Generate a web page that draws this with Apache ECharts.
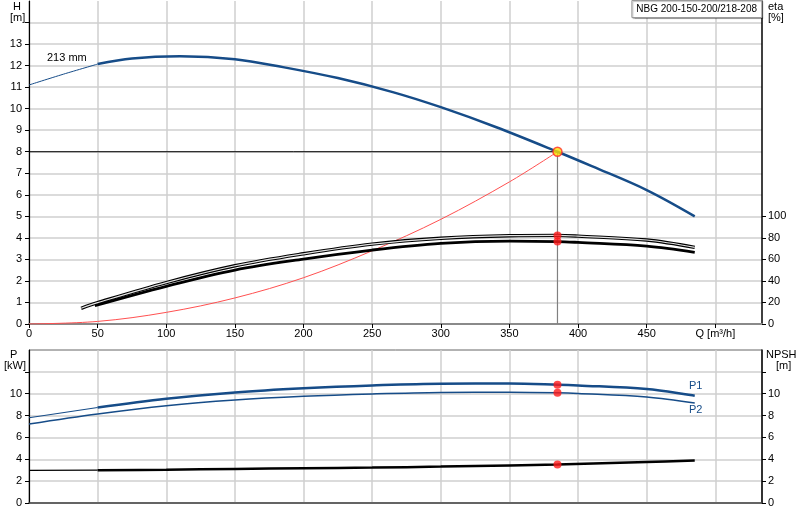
<!DOCTYPE html>
<html><head><meta charset="utf-8">
<script src="https://cdn.jsdelivr.net/npm/echarts@6/dist/echarts.min.js"></script>
<style>html,body{margin:0;padding:0;background:#fff}#c{width:800px;height:520px}</style>
</head><body><div id="c"></div>
<script>
// ---- data ----
const title = 'NBG 200-150-200/218-208';
const impellerLabel = '213 mm';
const qTicks = [0, 50, 100, 150, 200, 250, 300, 350, 400, 450, 500];
const hTickLabels = [0,1,2,3,4,5,6,7,8,9,10,11,12,13];
const etaTickLabels = [0,20,40,60,80,100];
const pTickLabels = [0,2,4,6,8,10];
// H curve (Q m3/h, H m)
const hCurveThin = [[0,11.1],[25,11.6],[50,12.07]];
const hCurve = [[50,12.07],[75,12.33],[110,12.43],[150,12.3],[185,11.93],[225,11.42],[265,10.77],[300,10.07],[340,9.15],[385,8.0],[410,7.33],[450,6.22],[485,5.0]];
// system curve
const sysCurve = [[0,0],[50,0.12],[100,0.54],[150,1.21],[200,2.15],[250,3.4],[300,4.86],[350,6.6],[385,8.0]];
// efficiency curves (%)
const etaUpper = [[38,14.6],[50,19.8],[100,38.5],[150,54.1],[200,65.2],[250,74.2],[300,79.6],[350,82.0],[385,82.3],[400,81.6],[450,78.0],[485,71.2]];
const etaLower = [[48,17.0],[100,35.0],[150,50.1],[200,60.3],[250,68.7],[300,74.9],[350,77.0],[385,76.6],[400,75.8],[450,72.4],[485,66.6]];
// power curves (kW)
const p1Thin = [[0,7.8],[50,8.74]];
const p1Curve = [[50,8.74],[100,9.54],[150,10.12],[200,10.5],[250,10.76],[300,10.92],[350,10.93],[385,10.83],[400,10.76],[450,10.43],[485,9.82]];
const p2Curve = [[0,7.22],[50,8.14],[100,8.9],[150,9.42],[200,9.76],[250,9.98],[300,10.12],[350,10.14],[385,10.09],[400,10.03],[450,9.7],[485,9.15]];
// NPSH (m)
const npshThin = [[0,2.98],[50,3.0]];
const npshCurve = [[50,3.0],[100,3.05],[150,3.12],[200,3.18],[250,3.24],[300,3.33],[350,3.44],[385,3.53],[450,3.75],[485,3.88]];
// duty point
const dutyQ = 385, dutyH = 8.0;
const dutyEta = [82.3, 76.6];
const dutyP = [10.83, 10.09];
const dutyNpsh = 3.53;

// ---- chart ----
const FONT = '"Liberation Sans", Arial, sans-serif';
const BLUE = '#164c88';
const chart = echarts.init(document.getElementById('c'), null, {renderer: 'canvas'});
const grid = '#cfcfcf';
const lbl = {color: '#000', fontSize: 11, fontFamily: FONT};

function line(data, opts) {
  return Object.assign({type: 'line', data: data, symbol: 'none', smooth: 0.35, silent: true, z: 3}, opts);
}
function dots(data, x, y, opts) {
  return Object.assign({type: 'scatter', data: data, xAxisIndex: x, yAxisIndex: y, symbolSize: 8,
    itemStyle: {color: '#ff1a1a'}, z: 10, silent: true}, opts);
}

const option = {
  animation: false,
  textStyle: {fontFamily: FONT},
  title: {
    text: title, right: 38, top: 0,
    padding: [4, 5, 4, 5],
    borderColor: '#9a9a9a', borderWidth: 1, backgroundColor: '#fff',
    shadowColor: 'rgba(0,0,0,0.25)', shadowOffsetX: 1, shadowOffsetY: 1, shadowBlur: 1,
    textStyle: {fontSize: 10, fontWeight: 'normal', color: '#000', fontFamily: FONT}
  },
  grid: [
    {left: 29, right: 38, top: 1, bottom: 196},
    {left: 29, right: 38, top: 350, bottom: 17, show: true, borderColor: '#666', borderWidth: 1}
  ],
  xAxis: [
    {type: 'value', gridIndex: 0, min: 0, max: 534, interval: 50,
      axisLine: {lineStyle: {color: '#8a8a8a', width: 2}},
      axisTick: {show: true, length: 4, lineStyle: {color: '#000'}, customValues: qTicks},
      axisLabel: Object.assign({margin: 4, customValues: qTicks,
        formatter: v => v === 500 ? 'Q [m\u00b3/h]' : String(v)}, lbl),
      splitLine: {show: true, lineStyle: {color: grid, width: 1.5}}},
    {type: 'value', gridIndex: 1, min: 0, max: 534, interval: 50,
      axisLine: {lineStyle: {color: '#444', width: 1.5}},
      axisTick: {show: false}, axisLabel: {show: false},
      splitLine: {show: true, lineStyle: {color: grid, width: 1.5}}}
  ],
  yAxis: [
    {type: 'value', gridIndex: 0, min: 0, max: 15, interval: 1, position: 'left',
      axisLine: {show: true, lineStyle: {color: '#000', width: 1.2}},
      axisTick: {show: true, length: 4, lineStyle: {color: '#000'}, customValues: hTickLabels.concat([14])},
      axisLabel: Object.assign({margin: 7, customValues: hTickLabels}, lbl),
      splitLine: {show: true, lineStyle: {color: grid, width: 1.5}}},
    {type: 'value', gridIndex: 0, min: 0, max: 300, interval: 20, position: 'right',
      axisLine: {show: true, lineStyle: {color: '#000', width: 1.5}},
      axisTick: {show: true, length: 4, lineStyle: {color: '#000'}, customValues: etaTickLabels},
      axisLabel: Object.assign({margin: 6, customValues: etaTickLabels}, lbl),
      splitLine: {show: false}},
    {type: 'value', gridIndex: 1, min: 0, max: 14, interval: 2, position: 'left',
      axisLine: {show: true, lineStyle: {color: '#000', width: 1.2}},
      axisTick: {show: true, length: 4, lineStyle: {color: '#000'}, customValues: pTickLabels.concat([12])},
      axisLabel: Object.assign({margin: 7, customValues: pTickLabels}, lbl),
      splitLine: {show: true, lineStyle: {color: grid, width: 1.5}}},
    {type: 'value', gridIndex: 1, min: 0, max: 14, interval: 2, position: 'right',
      axisLine: {show: true, lineStyle: {color: '#000', width: 1.5}},
      axisTick: {show: true, length: 4, lineStyle: {color: '#000'}, customValues: pTickLabels.concat([12])},
      axisLabel: Object.assign({margin: 6, customValues: pTickLabels}, lbl),
      splitLine: {show: false}}
  ],
  graphic: [
    {type: 'text', left: 13, top: 1, style: {text: 'H', fill: '#000', font: '11px ' + FONT}},
    {type: 'text', left: 10, top: 12, style: {text: '[m]', fill: '#000', font: '11px ' + FONT}},
    {type: 'text', left: 768, top: 1, style: {text: 'eta', fill: '#000', font: '11px ' + FONT}},
    {type: 'text', left: 768, top: 12, style: {text: '[%]', fill: '#000', font: '11px ' + FONT}},
    {type: 'text', left: 10, top: 349, style: {text: 'P', fill: '#000', font: '11px ' + FONT}},
    {type: 'text', left: 4, top: 360, style: {text: '[kW]', fill: '#000', font: '11px ' + FONT}},
    {type: 'text', left: 766, top: 349, style: {text: 'NPSH', fill: '#000', font: '11px ' + FONT}},
    {type: 'text', left: 776, top: 360, style: {text: '[m]', fill: '#000', font: '11px ' + FONT}},
    {type: 'text', left: 47, top: 52, style: {text: impellerLabel, fill: '#000', font: '11px ' + FONT}},
    {type: 'text', left: 689, top: 380, style: {text: 'P1', fill: BLUE, font: '11px ' + FONT}},
    {type: 'text', left: 689, top: 404, style: {text: 'P2', fill: BLUE, font: '11px ' + FONT}}
  ],
  series: [
    // duty lines
    line([[0, dutyH], [dutyQ, dutyH]], {smooth: false, xAxisIndex: 0, yAxisIndex: 0, lineStyle: {color: '#000', width: 1}, z: 2}),
    line([[dutyQ, 0], [dutyQ, dutyH]], {smooth: false, xAxisIndex: 0, yAxisIndex: 0, lineStyle: {color: '#808080', width: 1.2}, z: 2}),
    // system curve
    line(sysCurve, {xAxisIndex: 0, yAxisIndex: 0, lineStyle: {color: '#ff5050', width: 1}}),
    // H curve
    line(hCurveThin, {xAxisIndex: 0, yAxisIndex: 0, lineStyle: {color: BLUE, width: 1}}),
    line(hCurve, {xAxisIndex: 0, yAxisIndex: 0, lineStyle: {color: BLUE, width: 2.5}}),
    // efficiency
    line(etaUpper, {xAxisIndex: 0, yAxisIndex: 1, lineStyle: {color: '#000', width: 3.4}}),
    line(etaUpper, {xAxisIndex: 0, yAxisIndex: 1, lineStyle: {color: '#e2e2e2', width: 1.2}, z: 4}),
    line(etaLower, {xAxisIndex: 0, yAxisIndex: 1, lineStyle: {color: '#000', width: 2.8}}),
    dots(dutyEta.map(v => [dutyQ, v]), 0, 1),
    dots([[dutyQ, dutyH]], 0, 0, {symbolSize: 9, itemStyle: {color: '#ffe000', borderColor: '#ff2a2a', borderWidth: 1.5}}),
    // power
    line(p1Thin, {xAxisIndex: 1, yAxisIndex: 2, lineStyle: {color: BLUE, width: 1.2}}),
    line(p1Curve, {xAxisIndex: 1, yAxisIndex: 2, lineStyle: {color: BLUE, width: 2.5}}),
    line(p2Curve, {xAxisIndex: 1, yAxisIndex: 2, lineStyle: {color: BLUE, width: 1.5}}),
    // NPSH
    line(npshThin, {xAxisIndex: 1, yAxisIndex: 3, lineStyle: {color: '#000', width: 1.2}}),
    line(npshCurve, {xAxisIndex: 1, yAxisIndex: 3, lineStyle: {color: '#000', width: 2.5}}),
    dots(dutyP.map(v => [dutyQ, v]), 1, 2),
    dots([[dutyQ, dutyNpsh]], 1, 3)
  ]
};
chart.setOption(option);
</script></body></html>
